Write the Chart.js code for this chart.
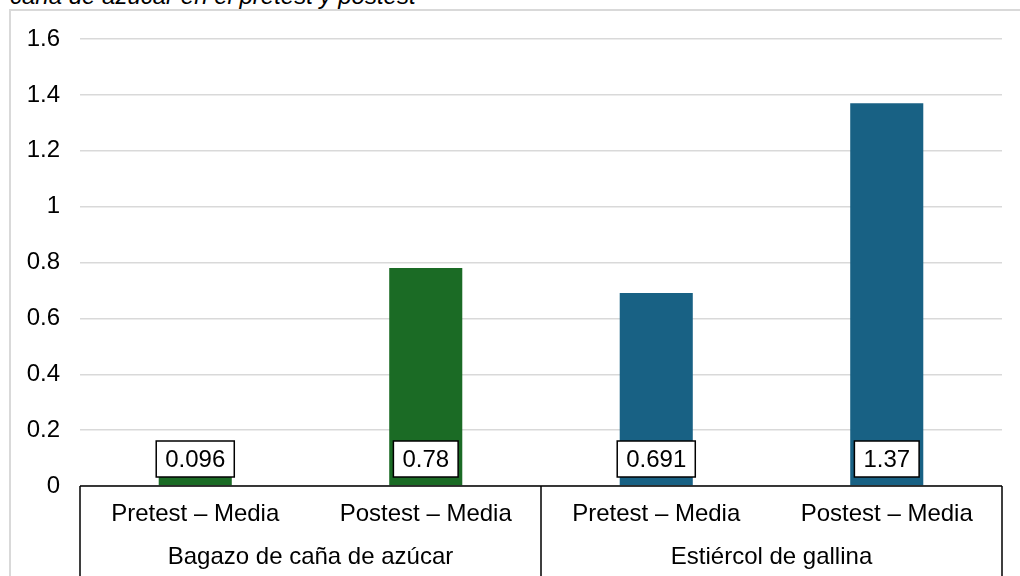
<!DOCTYPE html>
<html>
<head>
<meta charset="utf-8">
<script src="https://cdn.jsdelivr.net/npm/chart.js@4"></script>
<style>
  body { margin: 0; width: 1020px; height: 576px; overflow: hidden; background: #fff; position: relative; font-family: "Liberation Sans", Arial, sans-serif; }
  #frame { position: absolute; left: 9px; top: 9px; width: 1100px; height: 700px; border: 2px solid #d9d9d9; }
  #title { position: absolute; left: 10px; top: -16px; font-style: italic; font-size: 24px; line-height: 24px; white-space: nowrap; color: #000; }
  #wrap { position: absolute; left: 0; top: 0; width: 1020px; height: 576px; }
</style>
</head>
<body>
<div id="frame"></div>
<div id="title">caña de azúcar en el pretest y postest</div>
<div id="wrap"><canvas id="chart"></canvas></div>
<script>
// Data
const labels = ["Pretest – Media", "Postest – Media", "Pretest – Media", "Postest – Media"];
const groups = ["Bagazo de caña de azúcar", "Estiércol de gallina"];
const values = [0.096, 0.78, 0.691, 1.37];
const valueLabels = ["0.096", "0.78", "0.691", "1.37"];
const barColors = ["#1b6b25", "#1b6b25", "#186184", "#186184"];

const font = "Liberation Sans, Arial, sans-serif";

// Lines under the axis, group names and value boxes
const extras = {
  id: "extras",
  afterDatasetsDraw(chart) {
    const ctx = chart.ctx;
    const area = chart.chartArea;
    const meta = chart.getDatasetMeta(0);
    ctx.save();
    ctx.font = "24px " + font;
    ctx.textAlign = "center";
    ctx.textBaseline = "middle";
    meta.data.forEach((bar, i) => {
      const txt = valueLabels[i];
      const w = ctx.measureText(txt).width + 18;
      const h = 36;
      const bottom = area.bottom - 9;
      ctx.fillStyle = "#fff";
      ctx.fillRect(bar.x - w / 2, bottom - h, w, h);
      ctx.strokeStyle = "#000";
      ctx.lineWidth = 1.5;
      ctx.strokeRect(bar.x - w / 2, bottom - h, w, h);
      ctx.fillStyle = "#000";
      ctx.fillText(txt, bar.x, bottom - h / 2 + 1);
    });
    ctx.restore();
  },
  afterDraw(chart) {
    const ctx = chart.ctx;
    const area = chart.chartArea;
    const x = chart.scales.x;
    const mid = (x.getPixelForValue(1) + x.getPixelForValue(2)) / 2;
    ctx.save();
    ctx.strokeStyle = "#000";
    ctx.lineWidth = 1.5;
    ctx.beginPath();
    ctx.moveTo(area.left, area.bottom);
    ctx.lineTo(area.right, area.bottom);
    [area.left, mid, area.right].forEach(px => {
      ctx.moveTo(px, area.bottom);
      ctx.lineTo(px, chart.height);
    });
    ctx.stroke();
    ctx.font = "24px " + font;
    ctx.fillStyle = "#000";
    ctx.textAlign = "center";
    ctx.textBaseline = "middle";
    ctx.fillText(groups[0], (area.left + mid) / 2, 557);
    ctx.fillText(groups[1], (mid + area.right) / 2, 557);
    ctx.restore();
  }
};

new Chart(document.getElementById("chart"), {
  type: "bar",
  data: {
    labels: labels,
    datasets: [{
      data: values,
      backgroundColor: barColors,
      categoryPercentage: 1,
      barPercentage: 0.317
    }]
  },
  options: {
    responsive: true,
    maintainAspectRatio: false,
    animation: false,
    layout: { padding: { top: 39, right: 18, left: 0, bottom: 0 } },
    plugins: {
      legend: { display: false },
      tooltip: { enabled: false }
    },
    scales: {
      x: {
        grid: { display: false, drawTicks: false },
        border: { display: false },
        ticks: { color: "#000", font: { family: font, size: 24 }, padding: 14, maxRotation: 0, autoSkip: false },
        afterFit(scale) { scale.height = 90; }
      },
      y: {
        min: 0,
        max: 1.6,
        grid: { color: "#d9d9d9", lineWidth: 1.5, drawTicks: false },
        border: { display: false },
        ticks: {
          stepSize: 0.2, color: "#000", font: { family: font, size: 24 }, padding: 20,
          callback: v => String(Math.round(v * 10) / 10)
        },
        afterFit(scale) { scale.width = 80; }
      }
    }
  },
  plugins: [extras]
});
</script>
</body>
</html>
